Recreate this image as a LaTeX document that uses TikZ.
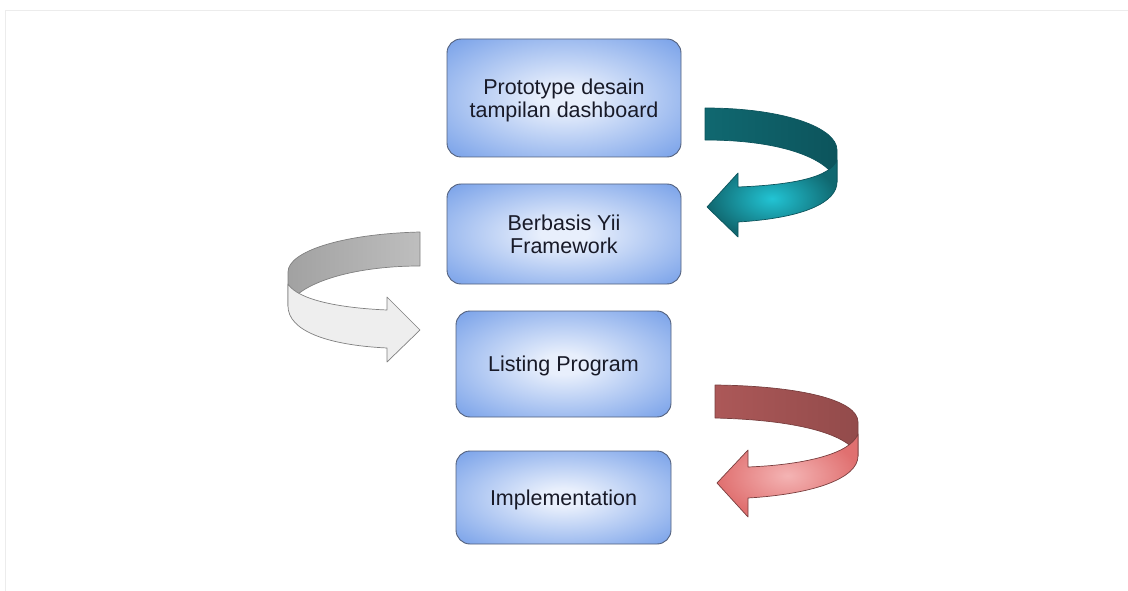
\documentclass[tikz,border=0pt]{standalone}
\usepackage{fontspec}
\setmainfont{Liberation Sans}
\definecolor{kotakdalam}{RGB}{232,239,252}
\definecolor{kotakluar}{RGB}{110,154,231}
\definecolor{kotakgaris}{RGB}{82,96,124}
\definecolor{tosca}{RGB}{16,104,112}
\definecolor{toscagelap}{RGB}{12,84,92}
\definecolor{toscaterang}{RGB}{34,196,212}
\definecolor{abu}{RGB}{190,190,190}
\definecolor{abuterang}{RGB}{238,238,238}
\definecolor{merah}{RGB}{172,88,88}
\definecolor{merahterang}{RGB}{244,180,180}
\definecolor{merahtepi}{RGB}{224,112,112}
\definecolor{bingkai}{RGB}{236,236,236}
\pgfdeclareradialshading{kotakshade}{\pgfpoint{0bp}{0bp}}{color(0bp)=(kotakdalam); color(5bp)=(kotakdalam); color(38bp)=(kotakluar); color(80bp)=(kotakluar)}
\begin{document}
\begin{tikzpicture}[x=1pt,y=-1pt,
  kotak/.style={draw=kotakgaris, line width=0.9pt, rounded corners=14pt,
    shading=kotakshade, align=center, text depth=0pt,
    text={rgb,255:red,24;green,26;blue,40}, font=\fontsize{21.5}{23.5}\selectfont},
  pita/.style={line width=0.7pt, line join=round}]
  \useasboundingbox (0,0) rectangle (1128,591);
  % bingkai
  \draw[bingkai] (5,591) -- (5,10) -- (1128,10);
  % kotak
  \node[kotak, minimum width=234pt, minimum height=118pt] (proto) at (564,98) {Prototype desain\\tampilan dashboard};
  \node[kotak, minimum width=234pt, minimum height=100pt] (yii) at (564,234) {Berbasis Yii\\Framework};
  \node[kotak, minimum width=215pt, minimum height=106pt] (listing) at (563.5,364) {Listing Program};
  \node[kotak, minimum width=215pt, minimum height=93pt] (impl) at (563.5,497.5) {Implementation};
  % panah tosca
  \path[pita, draw=toscagelap, left color=tosca, right color=toscagelap]
    (705,108) .. controls (785,108) and (837,128) .. (837,150) -- (837,182)
    .. controls (830,160) and (785,140) .. (705,140) -- cycle;
  \path[pita, draw=toscagelap, inner color=toscaterang, outer color=tosca]
    (837,160) .. controls (830,178) and (790,185) .. (738,187) -- (738,173)
    -- (707,207) -- (738,237) -- (738,222)
    .. controls (805,218) and (837,202) .. (837,182) -- cycle;
  % panah abu
  \path[pita, draw=gray, left color=abu!85!black, right color=abu]
    (420,232) .. controls (340,234) and (288,252) .. (288,272) -- (288,306)
    .. controls (298,284) and (350,266) .. (420,266) -- cycle;
  \path[pita, draw=gray, fill=abuterang]
    (288,284) .. controls (298,300) and (340,308) .. (387,310) -- (387,297)
    -- (420,330) -- (387,362) -- (387,348)
    .. controls (325,345) and (288,330) .. (288,306) -- cycle;
  % panah merah
  \path[pita, draw=merah!70!black, left color=merah, right color=merah!85!black]
    (715,385) .. controls (800,386) and (858,400) .. (858,422) -- (858,456)
    .. controls (850,435) and (800,420) .. (715,418) -- cycle;
  \path[pita, draw=merah!70!black, inner color=merahterang, outer color=merahtepi]
    (858,434) .. controls (850,455) and (800,465) .. (748,467) -- (748,450)
    -- (717,483) -- (748,517) -- (748,498)
    .. controls (815,494) and (858,478) .. (858,456) -- cycle;
\end{tikzpicture}
\end{document}
